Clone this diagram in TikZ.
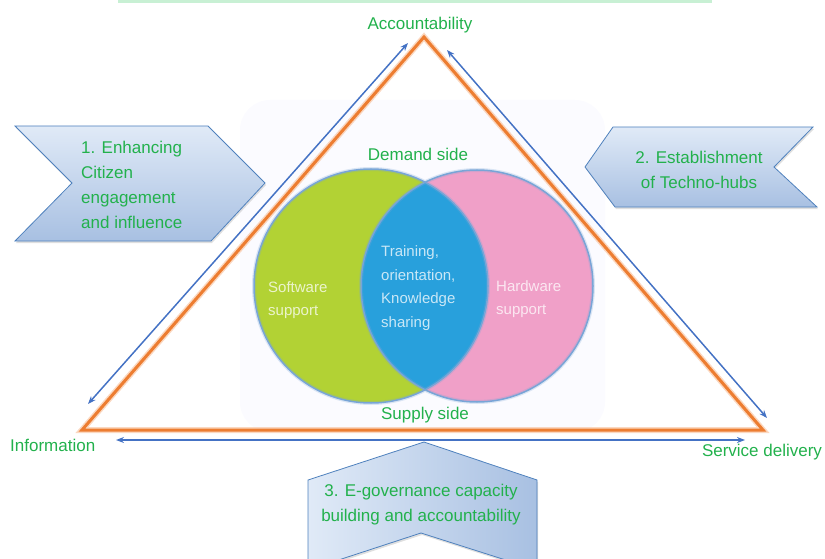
\documentclass[tikz,border=0pt]{standalone}
\usepackage{fontspec}
\setmainfont{Liberation Sans}
\usetikzlibrary{arrows.meta,shadows}
\definecolor{lblgreen}{RGB}{34,177,76}
\definecolor{tri}{RGB}{237,125,49}
\definecolor{trilight}{RGB}{248,190,150}
\definecolor{arrblue}{RGB}{68,114,196}
\definecolor{chevtop}{RGB}{224,234,247}
\definecolor{chevbot}{RGB}{168,192,226}
\definecolor{chevedge}{RGB}{79,129,189}
\definecolor{vgreen}{RGB}{178,210,52}
\definecolor{vpink}{RGB}{240,160,200}
\definecolor{vblue}{RGB}{40,160,220}
\definecolor{vedge}{RGB}{120,165,215}
\definecolor{band}{RGB}{200,240,212}
\begin{document}
\begin{tikzpicture}[x=1pt,y=-1pt,
  lbl/.style={text=lblgreen,font=\fontsize{17}{25}\selectfont,inner sep=0pt},
  vtxt/.style={text=white,text opacity=0.75,font=\fontsize{15}{23.5}\selectfont,inner sep=0pt,align=left,anchor=west},
  chev/.style={draw=chevedge,line width=0.8pt,drop shadow={opacity=0.25,shadow xshift=1pt,shadow yshift=-2pt}},
  blarrow/.style={draw=arrblue,line width=1.5pt,{Stealth[length=8pt,width=6pt]}-{Stealth[length=8pt,width=6pt]}}]
\useasboundingbox (0,0) rectangle (825,559);
% top band (cropped title)
\fill[band] (118,0) rectangle (712,3);
% faint background glow behind the venn
\fill[blue!1.5,rounded corners=30pt] (240,100) rectangle (605,432);
% venn
\coordinate (gc) at (371,286);
\coordinate (pc) at (477,286);
\fill[vgreen] (gc) circle[radius=117];
\fill[vpink] (pc) circle[radius=116];
\begin{scope}
  \clip (gc) circle[radius=117];
  \fill[vblue] (pc) circle[radius=116];
\end{scope}
\draw[vedge,line width=4pt,opacity=0.25] (gc) circle[radius=117] (pc) circle[radius=116];
\draw[vedge,line width=1.5pt] (gc) circle[radius=117] (pc) circle[radius=116];
\node[vtxt] (sw) at (268,300) {Software\\support};
\node[vtxt] (tr) at (381,288) {Training,\\orientation,\\Knowledge\\sharing};
\node[vtxt] (hw) at (496,299) {Hardware\\support};
% triangle
\coordinate (apex) at (424,37);
\coordinate (bl) at (82,430);
\coordinate (br) at (763,430);
\draw[trilight,line width=6pt,line join=miter,opacity=0.6] (apex) -- (br) -- (bl) -- cycle;
\draw[tri,line width=3pt,line join=miter] (apex) -- (br) -- (bl) -- cycle;
% blue arrows
\coordinate (la1) at (408,43);
\coordinate (la2) at (88,404);
\coordinate (ra1) at (447,50);
\coordinate (ra2) at (767,418);
\coordinate (ba1) at (116,440);
\coordinate (ba2) at (745,440);
\draw[blarrow] (la1) -- (la2);
\draw[blarrow] (ra1) -- (ra2);
\draw[blarrow] (ba1) -- (ba2);
% chevrons
\path[chev,top color=chevtop,bottom color=chevbot] (15,126) -- (208,126) -- (265,183) -- (211,241) -- (15,241) -- (72,183) -- cycle;
\path[chev,top color=chevtop,bottom color=chevbot] (613,127) -- (813,127) -- (774,167) -- (817,207) -- (615,207) -- (585,167) -- cycle;
\path[chev,left color=chevtop,right color=chevbot] (424,442) -- (537,480) -- (537,570) -- (421,533) -- (308,570) -- (308,480) -- cycle;
% labels
\node[lbl,align=left,anchor=west] (c1) at (81,185) {1. Enhancing\\Citizen\\engagement\\and influence};
\node[lbl,align=center] (c2) at (699,170) {2. Establishment\\of Techno-hubs};
\node[lbl,align=center] (c3) at (421,505) {3. E-governance capacity\\building and accountability};
\node[lbl] (acc) at (420,25) {Accountability};
\node[lbl] (dem) at (418,154) {Demand side};
\node[lbl] (sup) at (425,415) {Supply side};
\node[lbl,anchor=west] (inf) at (10,445) {Information};
\node[lbl] (sd) at (762,452) {Service delivery};
\end{tikzpicture}
\end{document}
